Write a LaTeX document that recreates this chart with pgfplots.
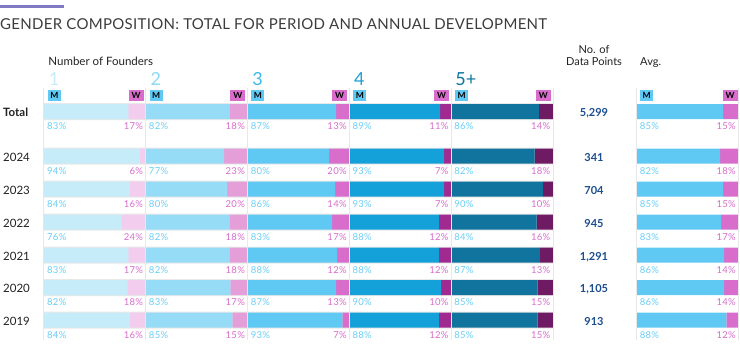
\documentclass[border=0pt]{standalone}
\usepackage{pgfplots}
\pgfplotsset{compat=1.18}
\usepackage{pgfplotstable}
\usepackage{fontspec}
\setmainfont{Lato}
\newfontfamily\titlefont[LetterSpace=2.0]{Lato}
\newfontfamily\pctfam[LetterSpace=3]{Lato}
\definecolor{g1m}{HTML}{C6EBF9}
\definecolor{g1w}{HTML}{F2CDEE}
\definecolor{g2m}{HTML}{97DCF6}
\definecolor{g2w}{HTML}{E49FD9}
\definecolor{g3m}{HTML}{5FC9F3}
\definecolor{g3w}{HTML}{D86DCC}
\definecolor{g4m}{HTML}{14A0D8}
\definecolor{g4w}{HTML}{A12A90}
\definecolor{g5m}{HTML}{10749E}
\definecolor{g5w}{HTML}{6F1B63}
\definecolor{pm}{HTML}{6ACEF5}
\definecolor{pw}{HTML}{D86DCC}
\definecolor{navy}{HTML}{1B4E8E}
\definecolor{ttl}{HTML}{3C3C3C}
\definecolor{dark}{HTML}{222222}
\definecolor{lav}{HTML}{8079C4}
\definecolor{sep}{HTML}{E8E8E8}
\definecolor{n1}{HTML}{C6EBF9}
\definecolor{n2}{HTML}{8ED8F4}
\definecolor{n3}{HTML}{3DB7E8}
\definecolor{n4}{HTML}{1A9FD6}
\definecolor{n5}{HTML}{10749E}

\pgfplotstableread{
y name M1 W1 M2 W2 M3 W3 M4 W4 M5 W5 N MA WA
111.5 \textbf{Total} 83 17 82 18 87 13 89 11 86 14 5299 85 15
156 2024 94 6 77 23 80 20 93 7 82 18 341 82 18
189 2023 84 16 80 20 86 14 93 7 90 10 704 85 15
222 2022 76 24 82 18 83 17 88 12 84 16 945 83 17
255 2021 83 17 82 18 88 12 88 12 87 13 1291 86 14
287.5 2020 82 18 83 17 87 13 90 10 85 15 1105 86 14
320 2019 84 16 85 15 93 7 88 12 85 15 913 88 12
}\data

\pgfplotsset{
  base/.style={x=1.018pt, y=1pt, y dir=reverse, xmin=-43.22, xmax=683.7,
    ymin=0, ymax=360, hide axis, clip=false, scale only axis,
    anchor=south west, at={(0,0)}},
  mlab/.style={draw=none, mark=none, point meta=explicit symbolic,
    nodes near coords={\pgfplotspointmeta\%},
    every node near coord/.append style={anchor=base west, xshift=3pt, yshift=-18pt,
      text=pm, font=\pctfam\fontsize{9.5}{9.5}\selectfont, inner sep=0pt}},
  wlab/.style={draw=none, mark=none, point meta=explicit symbolic,
    nodes near coords={\pgfplotspointmeta\%},
    every node near coord/.append style={anchor=base east, xshift=-2.5pt, yshift=-18pt,
      text=pw, font=\pctfam\fontsize{9.5}{9.5}\selectfont, inner sep=0pt}},
}
\tikzset{
  mb/.style={fill=g3m, inner sep=0pt, minimum width=13pt, minimum height=11.5pt,
    font=\bfseries\fontsize{8.5}{8.5}\selectfont, text=black, anchor=west},
  wb/.style={fill=g3w, inner sep=0pt, minimum width=15pt, minimum height=11.5pt,
    font=\bfseries\fontsize{8.5}{8.5}\selectfont, text=black, anchor=east},
}

\begin{document}
\begin{tikzpicture}
% background strips (thin grey edges of the bar rows)
\begin{axis}[base, xbar, bar width=17pt, bar shift=0pt]
\addplot[fill=sep, draw=none] table[x expr=500, y=y]{\data};
\end{axis}
% stacked bars
\begin{axis}[base, xbar stacked, bar width=15pt]
\addplot[fill=g1m, draw=none] table[x=M1, y=y]{\data};
\addplot[fill=g1w, draw=none] table[x=W1, y=y]{\data};
\addplot[fill=g2m, draw=none] table[x=M2, y=y]{\data};
\addplot[fill=g2w, draw=none] table[x=W2, y=y]{\data};
\addplot[fill=g3m, draw=none] table[x=M3, y=y]{\data};
\addplot[fill=g3w, draw=none] table[x=W3, y=y]{\data};
\addplot[fill=g4m, draw=none] table[x=M4, y=y]{\data};
\addplot[fill=g4w, draw=none] table[x=W4, y=y]{\data};
\addplot[fill=g5m, draw=none] table[x=M5, y=y]{\data};
\addplot[fill=g5w, draw=none] table[x=W5, y=y]{\data};
\addplot[fill=none, draw=none] table[x expr=82.2, y=y]{\data};
\addplot[fill=g3m, draw=none] table[x=MA, y=y]{\data};
\addplot[fill=g3w, draw=none] table[x=WA, y=y]{\data};
\end{axis}
% labels
\begin{axis}[base, name=B, /pgf/number format/assume math mode=true]
\pgfplotsinvokeforeach{0,100,200,300,400,500,582.2,682.2}{
  \draw[sep, line width=1pt] (axis cs:#1,88) -- (axis cs:#1,340);
}
\addplot[mlab] table[x expr=0, y=y, meta=M1]{\data};
\addplot[mlab] table[x expr=100, y=y, meta=M2]{\data};
\addplot[mlab] table[x expr=200, y=y, meta=M3]{\data};
\addplot[mlab] table[x expr=300, y=y, meta=M4]{\data};
\addplot[mlab] table[x expr=400, y=y, meta=M5]{\data};
\addplot[mlab] table[x expr=582.2, y=y, meta=MA]{\data};
\addplot[wlab] table[x expr=100, y=y, meta=W1]{\data};
\addplot[wlab] table[x expr=200, y=y, meta=W2]{\data};
\addplot[wlab] table[x expr=300, y=y, meta=W3]{\data};
\addplot[wlab] table[x expr=400, y=y, meta=W4]{\data};
\addplot[wlab] table[x expr=500, y=y, meta=W5]{\data};
\addplot[wlab] table[x expr=682.2, y=y, meta=WA]{\data};
% row names
\addplot[draw=none, mark=none, point meta=explicit symbolic,
  nodes near coords={\pgfplotspointmeta},
  every node near coord/.append style={anchor=base west, yshift=-5pt, inner sep=0pt,
    text=dark, font=\fontsize{11.5}{11.5}\selectfont}]
  table[x expr=-40.3, y=y, meta=name]{\data};
% number of data points
\addplot[draw=none, mark=none, point meta=explicit,
  nodes near coords={\pgfmathprintnumber[1000 sep={,}]{\pgfplotspointmeta}},
  every node near coord/.append style={anchor=base, yshift=-5pt, inner sep=0pt,
    text=navy, font=\bfseries\fontsize{11}{11}\selectfont}]
  table[x expr=540.3, y=y, meta=N]{\data};
% header
\draw[lav, line width=3pt] (axis cs:-43.22,6.5) -- (axis cs:19.6,6.5);
\node[anchor=base west, inner sep=0pt, text=ttl, font=\titlefont\fontsize{15}{15}\selectfont]
  at (axis cs:-43.22,29.3) {GENDER COMPOSITION: TOTAL FOR PERIOD AND ANNUAL DEVELOPMENT};
\node[anchor=base west, inner sep=0pt, text=dark, font=\fontsize{11.5}{11.5}\selectfont]
  at (axis cs:4.2,65.7) {Number of Founders};
\node[anchor=base, inner sep=0pt, text=dark, font=\fontsize{11}{11}\selectfont]
  at (axis cs:540.3,53.3) {No. of};
\node[anchor=base, inner sep=0pt, text=dark, font=\fontsize{11}{11}\selectfont]
  at (axis cs:540.3,65.7) {Data Points};
\node[anchor=base west, inner sep=0pt, text=dark, font=\fontsize{11}{11}\selectfont]
  at (axis cs:585.5,65.7) {Avg.};
\node[anchor=base west, inner sep=0pt, text=n1, font=\fontsize{18}{18}\selectfont] at (axis cs:4.5,85) {1};
\node[anchor=base west, inner sep=0pt, text=n2, font=\fontsize{18}{18}\selectfont] at (axis cs:104.5,85) {2};
\node[anchor=base west, inner sep=0pt, text=n3, font=\fontsize{18}{18}\selectfont] at (axis cs:204.5,85) {3};
\node[anchor=base west, inner sep=0pt, text=n4, font=\fontsize{18}{18}\selectfont] at (axis cs:304.5,85) {4};
\node[anchor=base west, inner sep=0pt, text=n5, font=\fontsize{18}{18}\selectfont] at (axis cs:404,85) {5+};
\node[mb] at (axis cs:3.6,95.5) {M};
\node[mb] at (axis cs:103.6,95.5) {M};
\node[mb] at (axis cs:203.6,95.5) {M};
\node[mb] at (axis cs:303.6,95.5) {M};
\node[mb] at (axis cs:403.6,95.5) {M};
\node[mb] at (axis cs:585.5,95.5) {M};
\node[wb] at (axis cs:98,95.5) {W};
\node[wb] at (axis cs:198,95.5) {W};
\node[wb] at (axis cs:298,95.5) {W};
\node[wb] at (axis cs:398,95.5) {W};
\node[wb] at (axis cs:498,95.5) {W};
\node[wb] at (axis cs:681.5,95.5) {W};
\end{axis}
\pgfresetboundingbox
\path[use as bounding box] (B.south west) rectangle (B.north east);
\end{tikzpicture}
\end{document}
